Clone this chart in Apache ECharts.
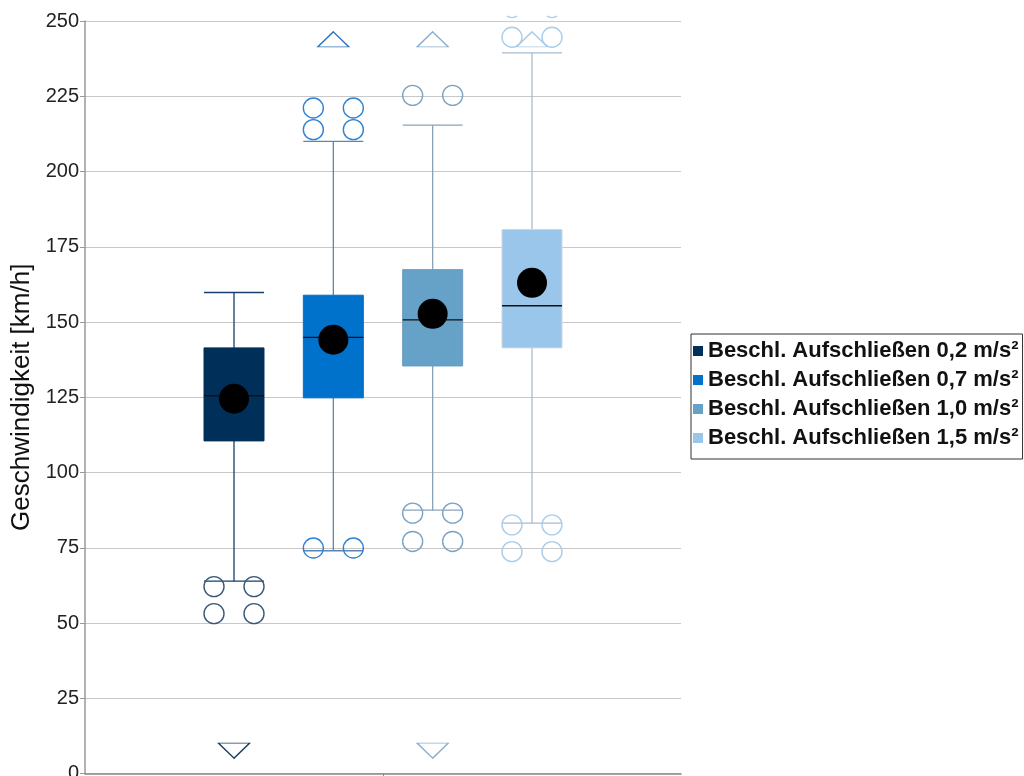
<!DOCTYPE html>
<html><head><meta charset="utf-8">
<script src="https://cdn.jsdelivr.net/npm/echarts@6/dist/echarts.min.js"></script>
<style>html,body{margin:0;padding:0;background:#fff}#c{width:1024px;height:776px}</style>
</head><body><div id="c"></div>
<script>
// ---- data ----
const seriesNames = ['Beschl. Aufschließen 0,2 m/s²', 'Beschl. Aufschließen 0,7 m/s²', 'Beschl. Aufschließen 1,0 m/s²', 'Beschl. Aufschließen 1,5 m/s²'];
const slots = ['', 's1', 's2', 's3', 's4', ''];      // hidden category slots, boxes sit in slots 1..4
const slotIndex = [1, 2, 3, 4];
const boxMin = [63.9, 74.0, 87.5, 83.2];
const boxQ1 = [110.5, 124.8, 135.4, 141.4];
const boxMedian = [125.5, 144.9, 150.7, 155.4];
const boxQ3 = [141.4, 158.9, 167.4, 180.7];
const boxMax = [159.8, 210.0, 215.4, 239.4];
const means = [124.5, 144.1, 152.7, 163.0];
const outliers = [[62.1, 53.1], [74.9, 213.9, 221.1], [86.5, 77.1, 225.3], [82.6, 73.7, 244.6]];
const outliersBeyondTop = [[], [], [], [254.5]];
const upMarker = [null, 243.9, 243.9, 243.9];
const downMarker = [7.6, null, 7.6, null];
const yMin = 0, yMax = 250, yStep = 25;
const yTitle = 'Geschwindigkeit [km/h]';

// ---- styles ----
const FONT = 'Liberation Sans, Arial, sans-serif';
const boxFill = ['#00305a', '#0072cc', '#66a1c8', '#99c6ea'];
const boxBorder = ['#00305a', '#0a6cc0', '#6a9cc0', '#cfd6dc'];
const whiskerColor = ['#16406a', '#5a86b2', '#8aa2b8', '#a9bdd0'];
const outlierColor = ['#3a5878', '#2f82d2', '#7ba3c4', '#a9cdea'];
const markerColor = ['#1d3d5e', '#2f74be', '#8aaed0', '#a9c9e6'];
const PAIR_OFF = 20;

const chart = echarts.init(document.getElementById('c'), null, {renderer: 'canvas'});

function boxSeries(i) {
  return {
    type: 'custom', name: seriesNames[i], xAxisIndex: 0, yAxisIndex: 0, z: 2,
    itemStyle: {color: boxFill[i]},
    encode: {x: 0, y: [1, 2, 3, 4, 5]},
    data: [[slotIndex[i], boxMin[i], boxQ1[i], boxMedian[i], boxQ3[i], boxMax[i]]],
    renderItem: function (params, api) {
      const x = api.value(0);
      const pMin = api.coord([x, api.value(1)]);
      const pQ1 = api.coord([x, api.value(2)]);
      const pMed = api.coord([x, api.value(3)]);
      const pQ3 = api.coord([x, api.value(4)]);
      const pMax = api.coord([x, api.value(5)]);
      const bw = api.size([1, 0])[0] * 0.604;
      const cx = pMed[0], l = cx - bw / 2, r = cx + bw / 2;
      const ws = {stroke: whiskerColor[i], lineWidth: 1.3};
      return {
        type: 'group', children: [
          {type: 'line', shape: {x1: cx, y1: pMax[1], x2: cx, y2: pQ3[1]}, style: ws},
          {type: 'line', shape: {x1: cx, y1: pQ1[1], x2: cx, y2: pMin[1]}, style: ws},
          {type: 'line', shape: {x1: l, y1: pMax[1], x2: r, y2: pMax[1]}, style: ws},
          {type: 'line', shape: {x1: l, y1: pMin[1], x2: r, y2: pMin[1]}, style: ws},
          {type: 'rect', shape: {x: l, y: pQ3[1], width: bw, height: pQ1[1] - pQ3[1]},
           style: {fill: boxFill[i], stroke: boxBorder[i], lineWidth: 1}},
          {type: 'line', shape: {x1: l, y1: pMed[1], x2: r, y2: pMed[1]}, style: {stroke: '#111', lineWidth: 1.3}}
        ]
      };
    }
  };
}

function outlierSeries(i) {
  const d = [];
  outliers[i].forEach(v => {
    d.push({value: [slotIndex[i], v], symbolOffset: [-PAIR_OFF, 0]});
    d.push({value: [slotIndex[i], v], symbolOffset: [PAIR_OFF, 0]});
  });
  return {
    type: 'scatter', xAxisIndex: 0, yAxisIndex: 0, z: 3, silent: true,
    symbol: 'circle', symbolSize: 20,
    itemStyle: {color: 'rgba(0,0,0,0)', borderColor: outlierColor[i], borderWidth: 1.4, opacity: 1},
    data: d
  };
}

function markerSeries() {
  const d = [];
  for (let i = 0; i < 4; i++) {
    if (upMarker[i] != null) d.push({value: [slotIndex[i], upMarker[i]], symbolRotate: 0,
      itemStyle: {color: 'rgba(0,0,0,0)', borderColor: markerColor[i], borderWidth: 1.3, opacity: 1}});
    if (downMarker[i] != null) d.push({value: [slotIndex[i], downMarker[i]], symbolRotate: 180,
      itemStyle: {color: 'rgba(0,0,0,0)', borderColor: markerColor[i], borderWidth: 1.3, opacity: 1}});
  }
  return {type: 'scatter', xAxisIndex: 0, yAxisIndex: 0, z: 3, silent: true,
    symbol: 'triangle', symbolSize: [31, 15], data: d};
}

function topArcSeries(i) {
  return {
    type: 'custom', xAxisIndex: 0, yAxisIndex: 0, z: 3, clip: false, silent: true,
    encode: {x: 0, y: 1},
    data: outliersBeyondTop[i].map(v => [slotIndex[i], v]),
    renderItem: function (params, api) {
      const p = api.coord([api.value(0), api.value(1)]);
      const rad = 10, clipY = params.coordSys.y - 5;
      const dy = clipY - p[1];
      if (dy >= rad) return {type: 'group', children: []};
      const a0 = Math.asin(Math.max(-1, dy / rad));
      const kids = [-PAIR_OFF, PAIR_OFF].map(o => ({
        type: 'arc', shape: {cx: p[0] + o, cy: p[1], r: rad, startAngle: a0, endAngle: Math.PI - a0, clockwise: true},
        style: {stroke: outlierColor[i], lineWidth: 1.3, fill: null}
      }));
      return {type: 'group', children: kids};
    }
  };
}

const series = [];
for (let i = 0; i < 4; i++) series.push(boxSeries(i));
for (let i = 0; i < 4; i++) series.push(outlierSeries(i));
for (let i = 0; i < 4; i++) series.push(topArcSeries(i));
series.push(markerSeries());
series.push({
  type: 'scatter', xAxisIndex: 0, yAxisIndex: 0, z: 4, silent: true,
  symbol: 'circle', symbolSize: 30, itemStyle: {color: '#000', opacity: 1},
  data: means.map((v, i) => [slotIndex[i], v])
});

chart.setOption({
  animation: false,
  backgroundColor: '#fff',
  textStyle: {fontFamily: FONT},
  grid: {left: 85, right: 343, top: 21, bottom: 2.5, containLabel: false, outerBoundsMode: 'none'},
  legend: {
    orient: 'vertical', left: 691, top: 334, itemWidth: 10, itemHeight: 10, itemGap: 7,
    icon: 'rect', borderColor: '#333', borderWidth: 1, padding: [6, 4, 10, 2],
    selectedMode: false, data: seriesNames,
    textStyle: {fontFamily: FONT, fontSize: 22, lineHeight: 22, fontWeight: 'bold', color: '#111'}
  },
  xAxis: [
    {type: 'category', data: slots, gridIndex: 0,
     axisLine: {show: true, lineStyle: {color: '#888', width: 1.5}},
     axisTick: {show: false}, axisLabel: {show: false}, splitLine: {show: false}},
    {type: 'category', data: [''], gridIndex: 0, position: 'bottom',
     axisLine: {show: false}, axisTick: {show: true, alignWithLabel: true, length: 3, lineStyle: {color: '#888'}},
     axisLabel: {show: false}, splitLine: {show: false}}
  ],
  yAxis: {
    type: 'value', min: yMin, max: yMax, interval: yStep,
    axisLine: {show: true, lineStyle: {color: '#999', width: 1.5}},
    axisTick: {show: true, length: 5, lineStyle: {color: '#999'}},
    axisLabel: {fontSize: 20, color: '#222', margin: 6, fontFamily: FONT},
    splitLine: {lineStyle: {color: '#c8c8c8', width: 1}},
    name: yTitle, nameLocation: 'middle', nameGap: 48,
    nameTextStyle: {fontSize: 26, color: '#111', fontFamily: FONT}
  },
  series: series
});
</script></body></html>
